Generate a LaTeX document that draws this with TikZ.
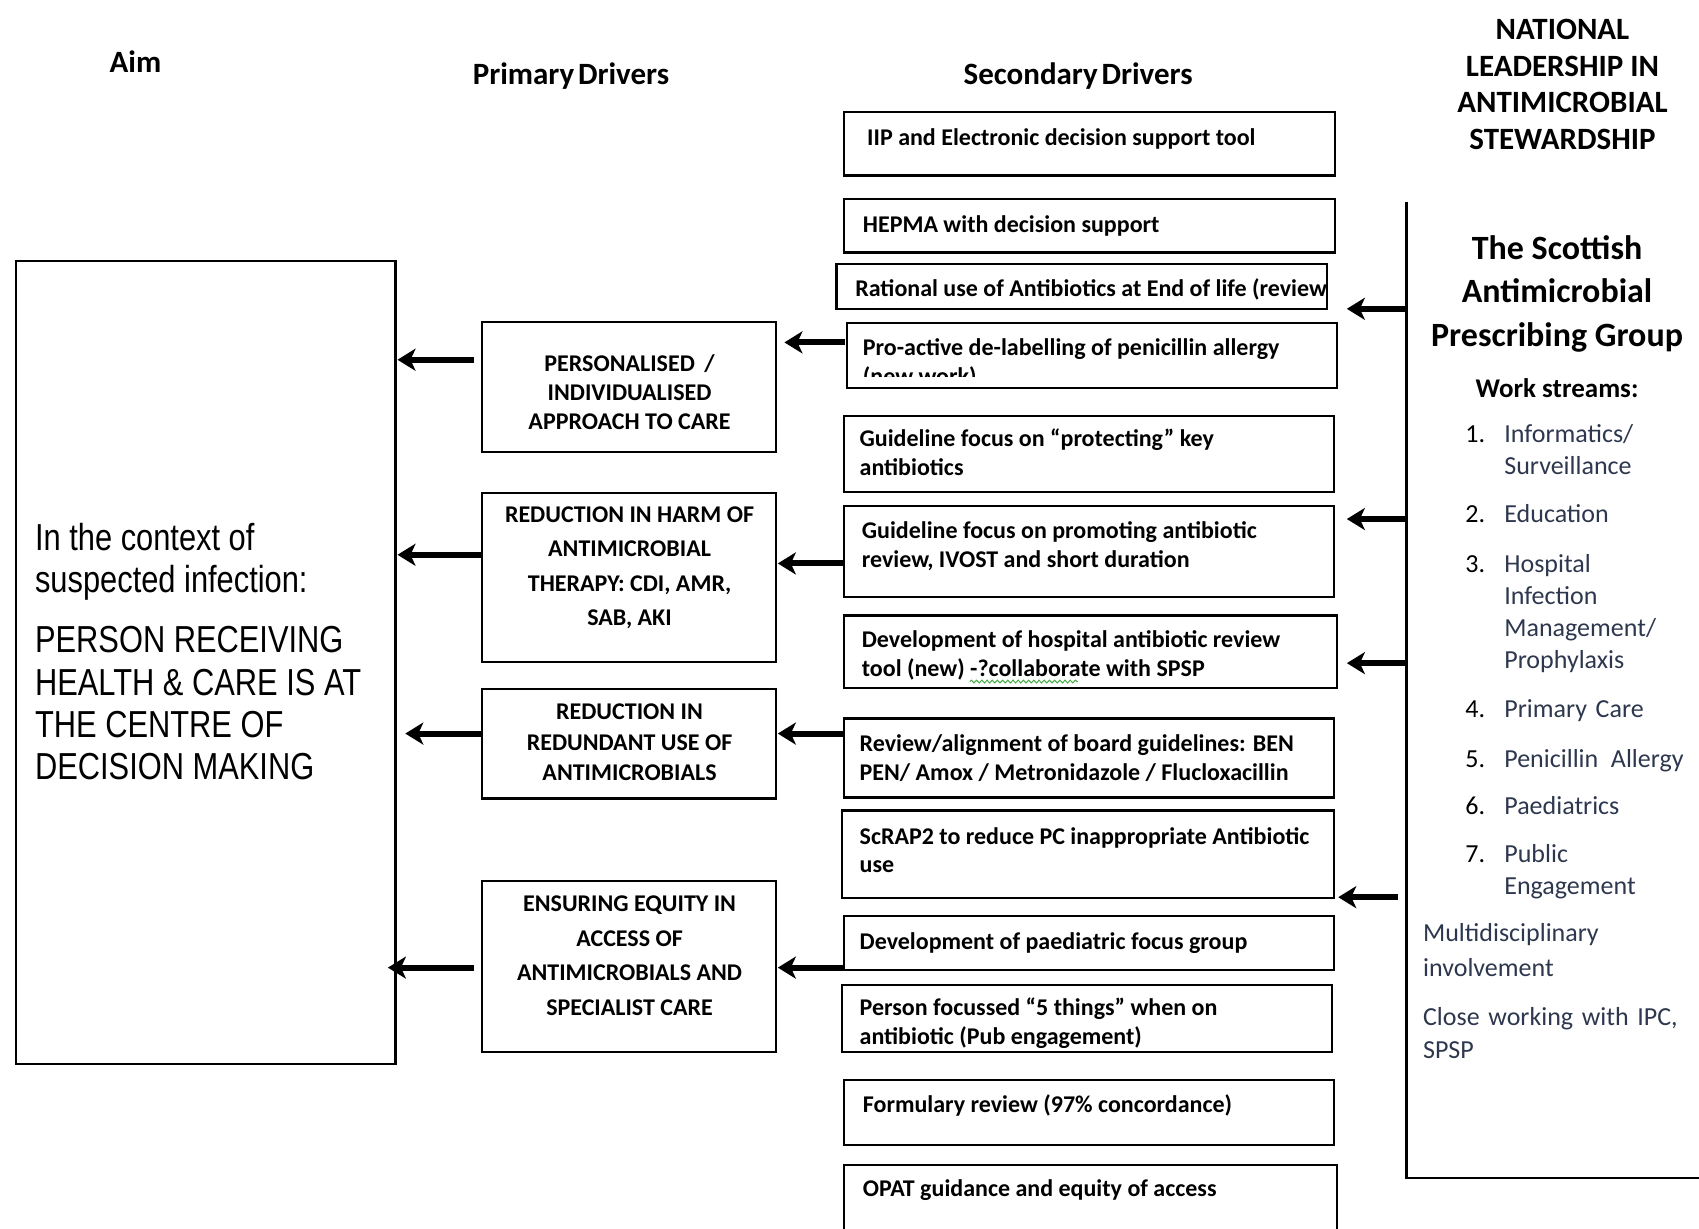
\documentclass[tikz,border=0pt]{standalone}
\usepackage{fontspec}
\setmainfont{Carlito}
\newfontfamily\narrowfont{Liberation Sans}[FakeStretch=0.82]
\usetikzlibrary{arrows.meta,decorations.pathmorphing}
\definecolor{listcol}{RGB}{45,55,78}
\definecolor{squig}{RGB}{70,170,70}
\newcommand\secfont{\fontsize{12}{14.4}\selectfont\bfseries}
\newcommand\hdrfont{\fontsize{15.5}{18}\selectfont\bfseries\spaceskip 0.12em\relax}
\newcommand\aimfont{\narrowfont\fontsize{18.8}{21.1}\selectfont}
\newcommand\drvbox[5]{\node[box, minimum width={(#4-#2)*0.54175pt}, minimum height={(#5-#3)*0.54175pt}] (#1) at ({(#2+#4)/2},{(#3+#5)/2}) {};}
\begin{document}
\begin{tikzpicture}[x=0.54175pt,y=-0.54175pt,
  box/.style={draw, line width=1.1pt, inner sep=0pt, outer sep=0pt},
  sec/.style={font=\secfont, inner sep=0pt, anchor=base west, text width=300pt, align=flush left},
  prim/.style={font=\fontsize{12}{#1}\selectfont\bfseries, inner sep=0pt, align=center},
  hdr/.style={font=\hdrfont, inner sep=0pt},
  arr/.style={line width=3pt, -{Stealth[length=9pt,width=11pt,inset=2.5pt]}},
  itm/.style={font=\fontsize{13}{#1}\selectfont, inner sep=0pt, anchor=base west, text width=150pt, align=left, text=listcol},
  num/.style={font=\fontsize{13}{16}\selectfont, inner sep=0pt, anchor=base west}]
\useasboundingbox (0,0) rectangle (1568,1134);

% headers
\node[hdr] (haim) at (125,57) {Aim};
\node[hdr] (hprim) at (527,70) {Primary Drivers};
\node[hdr] (hsec) at (995,70) {Secondary Drivers};
\node[font=\fontsize{15.5}{18.4}\selectfont\bfseries, inner sep=0pt, align=center] (hnat) at (1442,78) {NATIONAL\\LEADERSHIP IN\\ANTIMICROBIAL\\STEWARDSHIP};

% aim
\drvbox{aim}{15}{241}{365}{982}
\node[font=\aimfont, inner sep=0pt, anchor=base west, text width=185pt, align=flush left] (aimt) at (32,508)
 {In the context of\\suspected infection:\\[9pt]PERSON RECEIVING\\HEALTH \& CARE IS AT\\THE CENTRE OF\\DECISION MAKING};

% primary drivers
\drvbox{p1}{445}{297}{716}{417}
\drvbox{p2}{445}{455}{716}{611}
\drvbox{p3}{445}{636}{716}{737}
\drvbox{p4}{445}{813}{716}{971}
\node[prim=14.6] (p1t) at (581,362) {PERSONALISED \,/\\INDIVIDUALISED\\APPROACH TO CARE};
\node[prim=17.3] (p2t) at (581,524) {REDUCTION IN HARM OF\\ANTIMICROBIAL\\THERAPY: CDI, AMR,\\SAB, AKI};
\node[prim=15.2] (p3t) at (581,685) {REDUCTION IN\\REDUNDANT USE OF\\ANTIMICROBIALS};
\node[prim=17.3] (p4t) at (581,882) {ENSURING EQUITY IN\\ACCESS OF\\ANTIMICROBIALS AND\\SPECIALIST CARE};

% secondary drivers
\drvbox{s1}{779}{103}{1232}{162}
\drvbox{s2}{779}{184}{1232}{233}
\drvbox{s3}{772}{244}{1225}{285}
\drvbox{s4}{782}{298}{1234}{358}
\drvbox{s5}{779}{384}{1231}{454}
\drvbox{s6}{779}{467}{1231}{551}
\drvbox{s7}{779}{568}{1234}{635}
\drvbox{s8}{779}{663}{1231}{736}
\drvbox{s9}{777}{748}{1231}{829}
\drvbox{s10}{779}{845}{1231}{895}
\drvbox{s11}{777}{909}{1229}{971}
\drvbox{s12}{779}{997}{1231}{1057}
\drvbox{s13}{779}{1075}{1234}{1160}

\node[sec] (s1t) at (800,134) {IIP and Electronic decision support tool};
\node[sec] (s2t) at (796,215) {HEPMA with decision support};
\begin{scope}
\clip (774,246) rectangle (1223,283);
\node[sec] (s3t) at (789,274) {Rational use of Antibiotics at End of life (review)};
\end{scope}
\begin{scope}
\clip (784,300) rectangle (1232,347);
\node[sec] (s4t) at (796,328) {Pro-active de-labelling of penicillin allergy\\(new work)};
\end{scope}
\node[sec] (s5t) at (793,412) {Guideline focus on “protecting” key\\antibiotics};
\node[sec] (s6t) at (795,497) {Guideline focus on promoting antibiotic\\review, IVOST and short duration};
\node[sec] (s7t) at (795,598) {Development of hospital antibiotic review\\tool (new) -?collaborate with SPSP};
\draw[squig, line width=0.5pt, decorate, decoration={snake, amplitude=0.7pt, segment length=2.6pt}] (895,629) -- (995,629);
\node[sec] (s8t) at (793,694) {Review/alignment of board guidelines: BEN\\PEN/ Amox / Metronidazole / Flucloxacillin};
\node[sec] (s9t) at (793,779) {ScRAP2 to reduce PC inappropriate Antibiotic\\use};
\node[sec] (s10t) at (793,876) {Development of paediatric focus group};
\node[sec] (s11t) at (793,937) {Person focussed “5 things” when on\\antibiotic (Pub engagement)};
\node[sec] (s12t) at (796,1027) {Formulary review (97\% concordance)};
\node[sec] (s13t) at (796,1104) {OPAT guidance and equity of access};

% national group
\coordinate (rl) at (1298,186);
\coordinate (rb) at (1298,1087);
\coordinate (rr) at (1575,1087);
\draw[line width=1.1pt] (rl) -- (rb) -- (rr);
\node[font=\fontsize{17}{21.7}\selectfont\bfseries, inner sep=0pt, align=center] (sapg) at (1437,271) {The Scottish\\Antimicrobial\\Prescribing Group};
\node[font=\fontsize{13.5}{16}\selectfont\bfseries, inner sep=0pt] (ws) at (1437,358) {Work streams:};
\node[num] (n1) at (1352,408) {1.};
\node[itm=16.2] (i1) at (1388,408) {Informatics/\\Surveillance};
\node[num] (n2) at (1352,482) {2.};
\node[itm=16.2] (i2) at (1388,482) {Education};
\node[num] (n3) at (1352,528) {3.};
\node[itm=16.1] (i3) at (1388,528) {Hospital\\Infection\\Management/\\Prophylaxis};
\node[num] (n4) at (1352,662) {4.};
\node[itm=16.2] (i4) at (1388,662) {Primary Care};
\node[num] (n5) at (1352,708) {5.};
\node[itm=16.2] (i5) at (1388,708) {Penicillin\hspace{2pt} Allergy};
\node[num] (n6) at (1352,752) {6.};
\node[itm=16.2] (i6) at (1388,752) {Paediatrics};
\node[num] (n7) at (1352,796) {7.};
\node[itm=16.2] (i7) at (1388,796) {Public\\Engagement};
\node[itm=17.3] (md) at (1313,869) {Multidisciplinary\\involvement};
\node[itm=16.8] (cw) at (1313,946) {Close working with IPC,\\SPSP};

% arrows to aim
\draw[arr, shorten <=4.3pt, shorten >=1pt] (p1.west |- 0,332) -- (aim.east |- 0,332);
\draw[arr, shorten >=1pt] (p2.west |- 0,512) -- (aim.east |- 0,512);
\draw[arr, shorten >=4.9pt] (p3.west |- 0,677) -- (aim.east |- 0,677);
\draw[arr, shorten <=4.3pt, shorten >=-3.8pt] (p4.west |- 0,893) -- (aim.east |- 0,893);
% arrows to primary drivers
\draw[arr, shorten <=1pt, shorten >=4.3pt] (s4.west |- 0,316) -- (p1.east |- 0,316);
\draw[arr, shorten >=1pt] (s6.west |- 0,520) -- (p2.east |- 0,520);
\draw[arr, shorten >=1pt] (s8.west |- 0,677) -- (p3.east |- 0,677);
\draw[arr, shorten >=1pt] (s10.west |- 0,893) -- (p4.east |- 0,893);
% arrows from national group
\draw[arr, shorten >=9.75pt] (rl |- 0,285) -- (s3.east |- 0,285);
\draw[arr, shorten >=6.5pt] (rl |- 0,479) -- (s6.east |- 0,479);
\draw[arr, shorten >=4.9pt] (rl |- 0,612) -- (s7.east |- 0,612);
\draw[arr, shorten <=4.3pt, shorten >=2.2pt] (rl |- 0,828) -- (s9.east |- 0,828);
\end{tikzpicture}
\end{document}
